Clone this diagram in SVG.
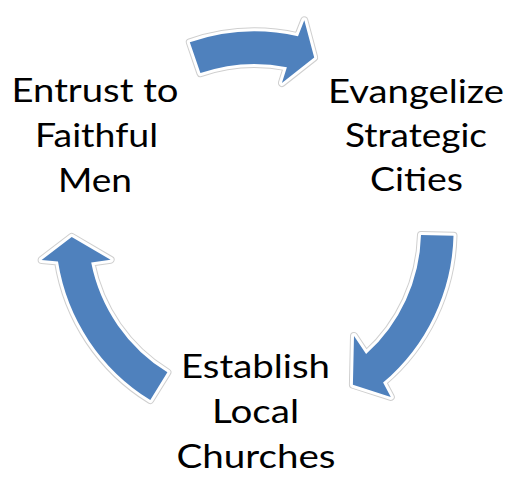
<svg xmlns="http://www.w3.org/2000/svg" width="507" height="477" viewBox="0 0 507 477">
<style>
.lbl{font-family:Lato,"Open Sans","Liberation Sans",sans-serif;font-size:33px;fill:#000;text-anchor:middle}
.edge{stroke:#cfcfcf;stroke-width:8;fill:none;stroke-linejoin:round}
.halo{stroke:#fff;stroke-width:6;fill:none;stroke-linejoin:round}
.fill{fill:#4f81bd;stroke:none}
</style>
<defs>
<path id="a1" d="M189.8,42.3 A199,199 0 0 1 298.0,36.3 L304.3,20.3 L314.2,57.5 L281.9,83.0 L286.9,67.2 A166.5,166.5 0 0 0 200.4,73.1 Z"/>
<path id="a2" d="M453.5,235.7 A199,199 0 0 1 383.1,382.5 L390.8,396.9 L352.9,384.8 L354.0,336.0 L366.1,354.1 A166.5,166.5 0 0 0 421.0,234.9 Z"/>
<path id="a3" d="M150.3,400.0 A199,199 0 0 1 58.0,261.6 L41.6,260.0 L71.7,236.9 L110.6,259.8 L91.2,262.6 A166.5,166.5 0 0 0 167.4,372.3 Z"/>
</defs>
<rect width="507" height="477" fill="#fff"/>
<g id="connectors">
<g id="arrow-entrust-evangelize"><use href="#a1" class="edge"/><use href="#a1" class="halo"/><use href="#a1" class="fill"/></g>
<g id="arrow-evangelize-establish"><use href="#a2" class="edge"/><use href="#a2" class="halo"/><use href="#a2" class="fill"/></g>
<g id="arrow-establish-entrust"><use href="#a3" class="edge"/><use href="#a3" class="halo"/><use href="#a3" class="fill"/></g>
</g>
<g id="node-entrust">
<text class="lbl" x="95" y="101.7" textLength="167" lengthAdjust="spacingAndGlyphs">Entrust to</text>
<text class="lbl" x="96.5" y="146.7" textLength="123" lengthAdjust="spacingAndGlyphs">Faithful</text>
<text class="lbl" x="95" y="191.7" textLength="74" lengthAdjust="spacingAndGlyphs">Men</text>
</g>
<g id="node-evangelize">
<text class="lbl" x="416" y="102.7" textLength="176" lengthAdjust="spacingAndGlyphs">Evangelize</text>
<text class="lbl" x="416" y="146.7" textLength="142" lengthAdjust="spacingAndGlyphs">Strategic</text>
<text class="lbl" x="416.5" y="190.7" textLength="93" lengthAdjust="spacingAndGlyphs">Cities</text>
</g>
<g id="node-establish">
<text class="lbl" x="255.5" y="378.3" textLength="149" lengthAdjust="spacingAndGlyphs">Establish</text>
<text class="lbl" x="255.5" y="423.3" textLength="87" lengthAdjust="spacingAndGlyphs">Local</text>
<text class="lbl" x="256" y="468.3" textLength="159" lengthAdjust="spacingAndGlyphs">Churches</text>
</g>
</svg>
